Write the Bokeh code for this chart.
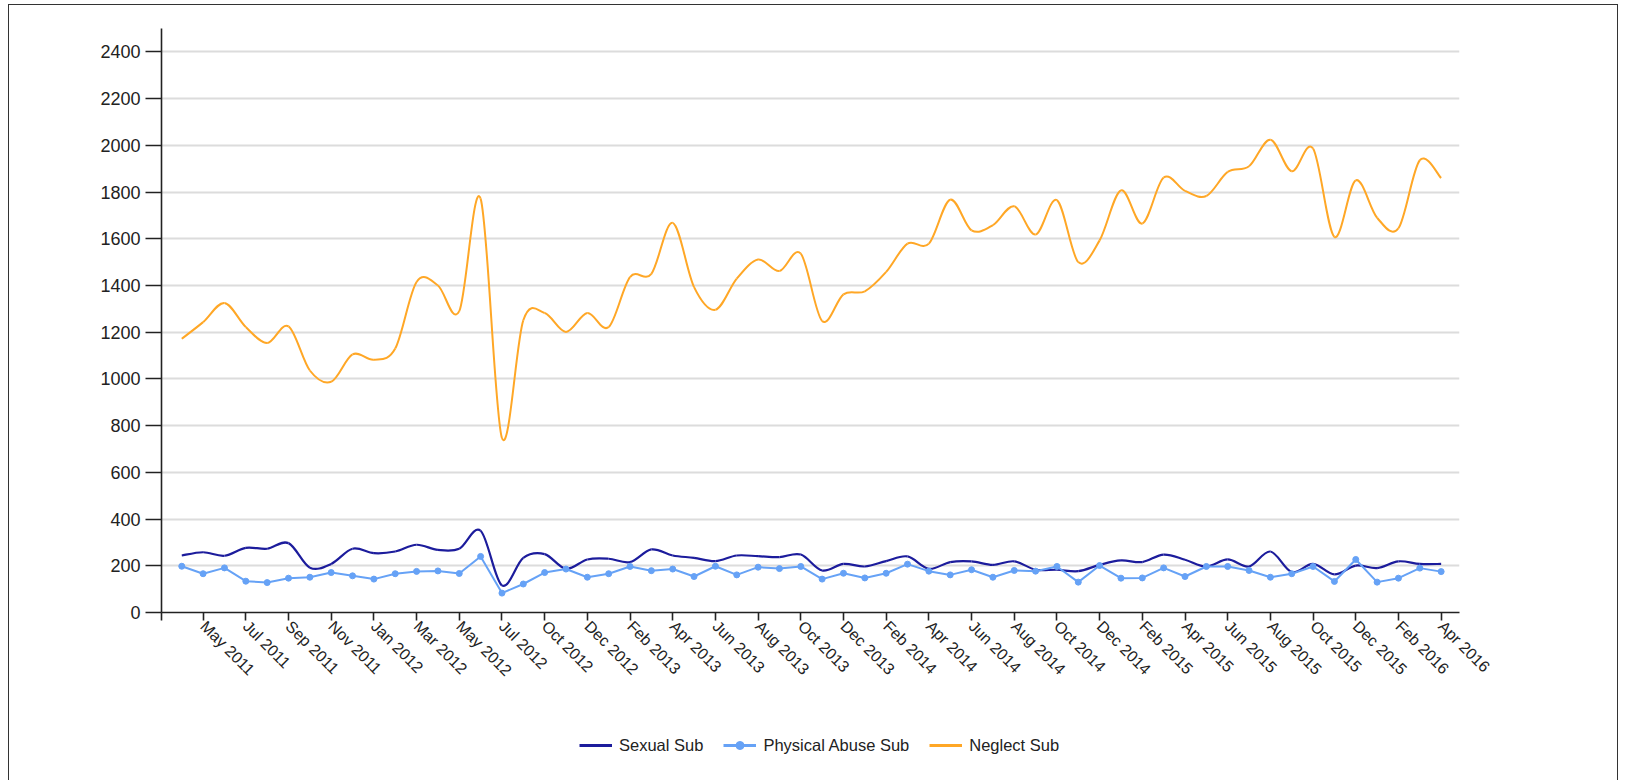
import math
from bokeh.plotting import figure
from bokeh.layouts import column
from bokeh.models import Range1d, FixedTicker, Legend, LegendItem, ColumnDataSource
from bokeh.embed import file_html
from bokeh.resources import INLINE

months = [
    "Apr 2011", "May 2011", "Jun 2011", "Jul 2011", "Aug 2011", "Sep 2011", "Oct 2011", "Nov 2011", "Dec 2011",
    "Jan 2012", "Feb 2012", "Mar 2012", "Apr 2012", "May 2012", "Jun 2012", "Jul 2012", "Sep 2012", "Oct 2012",
    "Nov 2012", "Dec 2012",
    "Jan 2013", "Feb 2013", "Mar 2013", "Apr 2013", "May 2013", "Jun 2013", "Jul 2013", "Aug 2013", "Sep 2013",
    "Oct 2013", "Nov 2013", "Dec 2013",
    "Jan 2014", "Feb 2014", "Mar 2014", "Apr 2014", "May 2014", "Jun 2014", "Jul 2014", "Aug 2014", "Sep 2014",
    "Oct 2014", "Nov 2014", "Dec 2014",
    "Jan 2015", "Feb 2015", "Mar 2015", "Apr 2015", "May 2015", "Jun 2015", "Jul 2015", "Aug 2015", "Sep 2015",
    "Oct 2015", "Nov 2015", "Dec 2015",
    "Jan 2016", "Feb 2016", "Mar 2016", "Apr 2016",
]

sexual = [244, 258, 243, 277, 273, 297, 192, 208, 273, 254, 261, 290, 268, 273, 350, 116, 234, 250, 187, 227,
          230, 216, 270, 244, 234, 220, 244, 241, 237, 248, 180, 208, 197, 220, 240, 187, 216, 219, 204, 219,
          183, 183, 177, 204, 223, 216, 248, 226, 197, 227, 197, 261, 173, 208, 163, 201, 190, 219, 208, 208]

physical = [198, 166, 191, 134, 128, 147, 151, 171, 157, 143, 166, 176, 178, 167, 240, 83, 122, 171, 186, 151,
            166, 197, 179, 186, 154, 198, 161, 194, 188, 197, 143, 168, 148, 168, 207, 177, 161, 183, 151, 180,
            177, 197, 130, 201, 147, 148, 191, 154, 197, 197, 180, 151, 166, 197, 133, 227, 130, 147, 190, 175]

neglect = [1172, 1243, 1325, 1222, 1154, 1225, 1036, 988, 1105, 1082, 1130, 1415, 1400, 1290, 1772, 747, 1251,
           1282, 1201, 1282, 1222, 1436, 1450, 1668, 1393, 1296, 1429, 1511, 1462, 1536, 1248, 1362, 1375, 1458,
           1579, 1579, 1767, 1636, 1658, 1739, 1618, 1765, 1500, 1593, 1807, 1665, 1862, 1805, 1783, 1886, 1910,
           2024, 1889, 1986, 1608, 1850, 1690, 1645, 1936, 1860]

series_names = ["Sexual Sub", "Physical Abuse Sub", "Neglect Sub"]
y_ticks = list(range(0, 2401, 200))

FONT = "Liberation Sans"
idx = list(range(len(months)))

c_sex = "#1c1c9c"
c_phys = "#66a2f6"
c_neg = "#ffa726"


def cardinal_source(xs, ys):
    n = len(xs)
    d = dict(x0=[], y0=[], x1=[], y1=[], cx0=[], cy0=[], cx1=[], cy1=[])
    for i in range(n - 1):
        a = i - 1 if i > 0 else i
        b = i + 2 if i + 2 < n else i + 1
        d["x0"].append(xs[i]); d["y0"].append(ys[i])
        d["x1"].append(xs[i + 1]); d["y1"].append(ys[i + 1])
        d["cx0"].append(xs[i] + (xs[i + 1] - xs[a]) / 6.0)
        d["cy0"].append(ys[i] + (ys[i + 1] - ys[a]) / 6.0)
        d["cx1"].append(xs[i + 1] - (xs[b] - xs[i]) / 6.0)
        d["cy1"].append(ys[i + 1] - (ys[b] - ys[i]) / 6.0)
    return ColumnDataSource(d)


BZ = dict(x0="x0", y0="y0", x1="x1", y1="y1", cx0="cx0", cy0="cy0", cx1="cx1", cy1="cy1")

# ---- main chart ----
p = figure(frame_width=1298, frame_height=584, output_backend="svg", toolbar_location=None,
           x_range=Range1d(-0.95, 59.86), y_range=Range1d(0, 2500),
           min_border_left=152, min_border_right=158, min_border_top=23, min_border_bottom=95)
p.outline_line_color = None
p.background_fill_color = "white"
p.border_fill_color = "white"

p.xgrid.visible = False
p.ygrid.grid_line_color = "#dcdcdc"
p.ygrid.grid_line_width = 2

p.yaxis.ticker = FixedTicker(ticks=y_ticks)
p.yaxis.minor_tick_line_color = None
p.yaxis.major_tick_in = 0
p.yaxis.major_tick_out = 16
p.yaxis.major_label_standoff = 5
p.yaxis.major_label_text_font = FONT
p.yaxis.major_label_text_font_size = "18px"
p.yaxis.major_label_text_color = "#222222"

x_ticks = [-0.95] + [i for i in idx if i % 2 == 1]
p.xaxis.ticker = FixedTicker(ticks=x_ticks)
overrides = {i: months[i] for i in idx if i % 2 == 1}
overrides[-0.95] = ""
p.xaxis.major_label_overrides = overrides
p.xaxis.major_label_orientation = -math.pi / 4
p.xaxis.minor_tick_line_color = None
p.xaxis.major_tick_in = 0
p.xaxis.major_tick_out = 8
p.xaxis.major_label_standoff = 3
p.xaxis.major_label_text_font = FONT
p.xaxis.major_label_text_font_size = "16px"
p.xaxis.major_label_text_color = "#222222"

for ax in (p.xaxis, p.yaxis):
    ax.axis_line_color = "#222222"
    ax.axis_line_width = 1.6
    ax.major_tick_line_color = "#222222"
    ax.major_tick_line_width = 1.6

p.bezier(source=cardinal_source(idx, neglect), line_color=c_neg, line_width=2, **BZ)
p.bezier(source=cardinal_source(idx, sexual), line_color=c_sex, line_width=2.2, **BZ)
p.line(idx, physical, line_color=c_phys, line_width=2)
p.scatter(idx, physical, size=6, fill_color=c_phys, line_color=c_phys)

# ---- legend strip (series drawn outside its view, used only as legend glyphs) ----
q = figure(width=1608, height=73, output_backend="svg", toolbar_location=None,
           x_range=Range1d(0, 1), y_range=Range1d(0, 1), x_axis_type=None, y_axis_type=None,
           min_border=0, min_border_left=0, min_border_right=0, min_border_top=0, min_border_bottom=0)
q.outline_line_color = None
q.xgrid.visible = False
q.ygrid.visible = False
l_sex = q.bezier(source=cardinal_source(idx, sexual), line_color=c_sex, line_width=3, **BZ)
l_phys = q.line(idx, physical, line_color=c_phys, line_width=3)
m_phys = q.scatter(idx, physical, size=3, fill_color=c_phys, line_color=c_phys)
l_neg = q.bezier(source=cardinal_source(idx, neglect), line_color=c_neg, line_width=3, **BZ)

legend = Legend(items=[LegendItem(label=series_names[0], renderers=[l_sex]),
                       LegendItem(label=series_names[1], renderers=[l_phys, m_phys]),
                       LegendItem(label=series_names[2], renderers=[l_neg])],
                orientation="horizontal", location=(418, 25))
legend.border_line_color = None
legend.background_fill_alpha = 0
legend.label_text_font = FONT
legend.label_text_font_size = "16.5px"
legend.label_text_color = "#222222"
legend.glyph_width = 33
legend.glyph_height = 20
legend.label_standoff = 7
legend.spacing = 20
legend.padding = 0
legend.margin = 0
q.add_layout(legend, "center")

layout = column(p, q, spacing=0)
layout.styles = {"margin-top": "4px", "margin-left": "8px", "border-top": "1px solid #333",
                 "border-left": "1px solid #333", "border-right": "1px solid #333"}

open("out.html", "w").write(file_html(layout, INLINE))
